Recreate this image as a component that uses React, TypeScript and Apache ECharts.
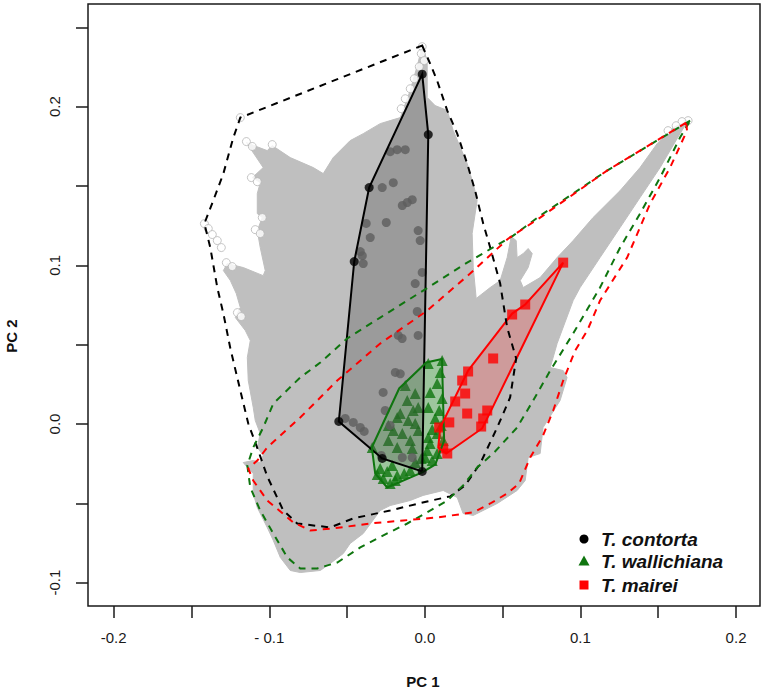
import React, { useEffect, useRef } from "react";
import * as echarts from "echarts";

// ---- axis ticks / labels ----
const xTickValues = [-0.2, -0.15, -0.1, -0.05, 0, 0.05, 0.1, 0.15, 0.2];
const xLabelValues = [-0.2, -0.1, 0, 0.1, 0.2];
const xLabelTexts = ["-0.2", "- 0.1", "0.0", "0.1", "0.2"];
const yTickValues = [-0.1, -0.05, 0, 0.05, 0.1, 0.15, 0.2, 0.25];
const yLabelValues = [-0.1, 0, 0.1, 0.2];
const yLabelTexts = ["-0.1", "0.0", "0.1", "0.2"];

// ---- background environmental space (outline of the grey cloud) ----
const envOutline: number[][] = [
  [-0.0017, 0.2385], [0.0015, 0.229], [0.0015, 0.2058], [0.0066, 0.2007], [0.0144, 0.1976],
  [0.0182, 0.185], [0.0272, 0.1642], [0.0317, 0.1491], [0.0336, 0.1409], [0.0304, 0.1201],
  [0.0311, 0.0986], [0.033, 0.0791], [0.042, 0.086], [0.0484, 0.0904], [0.0529, 0.1049],
  [0.0555, 0.1181], [0.0587, 0.1156], [0.0593, 0.1049], [0.0632, 0.1074], [0.0664, 0.1106],
  [0.069, 0.1074], [0.0664, 0.0986], [0.0613, 0.0904], [0.0632, 0.086], [0.0741, 0.0923],
  [0.085, 0.1049], [0.0953, 0.1156], [0.1081, 0.1301], [0.1255, 0.1471], [0.1383, 0.1616],
  [0.1493, 0.1767], [0.1596, 0.1868], [0.1692, 0.1912], [0.164, 0.183], [0.1512, 0.1616],
  [0.1383, 0.1427], [0.1255, 0.1238], [0.1126, 0.1049], [0.0998, 0.086], [0.0953, 0.0778],
  [0.085, 0.0507], [0.0806, 0.0356], [0.0889, 0.0337], [0.0914, 0.0293], [0.0869, 0.0148],
  [0.076, -0.0022], [0.0741, -0.0186], [0.0664, -0.0211], [0.0645, -0.0356], [0.0593, -0.0419],
  [0.0465, -0.0501], [0.0311, -0.0576], [0.0246, -0.0564], [0.0208, -0.0463], [0.0118, -0.0419],
  [-0.0011, -0.045], [-0.0094, -0.0482], [-0.0223, -0.0514], [-0.0287, -0.0545], [-0.0396, -0.069],
  [-0.048, -0.0753], [-0.0524, -0.0816], [-0.0608, -0.0879], [-0.0672, -0.0923], [-0.0801, -0.0936],
  [-0.0865, -0.0923], [-0.0929, -0.0841], [-0.0974, -0.0734], [-0.1013, -0.0652], [-0.1077, -0.0526],
  [-0.1103, -0.0438], [-0.1103, -0.0312], [-0.1141, -0.0274], [-0.1167, -0.0243], [-0.1103, -0.023],
  [-0.1058, -0.0243], [-0.1039, -0.0198], [-0.1077, -0.0148], [-0.1058, -0.006], [-0.109, 0.0022],
  [-0.1103, 0.0104], [-0.1135, 0.0274], [-0.1141, 0.0419], [-0.1122, 0.0526], [-0.1154, 0.0589],
  [-0.1218, 0.0671], [-0.1186, 0.0734], [-0.1212, 0.0822], [-0.125, 0.0904], [-0.1295, 0.0967],
  [-0.127, 0.1011], [-0.1167, 0.0986], [-0.1039, 0.0935], [-0.1026, 0.0967], [-0.1058, 0.1112],
  [-0.1077, 0.1219], [-0.1045, 0.1301], [-0.1077, 0.1326], [-0.1077, 0.1452], [-0.1058, 0.1521],
  [-0.1109, 0.1553], [-0.1039, 0.1616], [-0.1147, 0.1774], [-0.1083, 0.1749], [-0.1013, 0.1723],
  [-0.0981, 0.1755], [-0.0865, 0.1679], [-0.0717, 0.1616], [-0.0653, 0.1578], [-0.0589, 0.1679],
  [-0.048, 0.1786], [-0.0396, 0.183], [-0.0287, 0.1893], [-0.0223, 0.1912], [-0.0158, 0.1931],
  [-0.0094, 0.2102], [-0.0043, 0.2278],
];

// open circles at the fringe of the background cloud
const envFringe: number[][] = [
  [-0.1186, 0.1931], [-0.1147, 0.178], [-0.1109, 0.1749], [-0.0981, 0.1761], [-0.1115, 0.1553],
  [-0.1077, 0.1527], [-0.109, 0.1225], [-0.1058, 0.12], [-0.1417, 0.1263], [-0.1392, 0.1232],
  [-0.1366, 0.1194], [-0.1334, 0.1156], [-0.1308, 0.1112], [-0.1276, 0.1017], [-0.1238, 0.0992],
  [-0.1205, 0.0702], [-0.118, 0.0677], [-0.1045, 0.1301], [-0.0017, 0.2378], [-0.0023, 0.2334],
  [-0.0004, 0.229], [-0.0036, 0.2252], [-0.0068, 0.2176], [-0.0094, 0.2113], [-0.0126, 0.205],
  [-0.0152, 0.1987], [0.1692, 0.1912], [0.1653, 0.1906], [0.1615, 0.188], [0.1563, 0.1849],
];

// ---- T. contorta ----
const contortaPoints: number[][] = [
  [-0.0223, 0.1716], [-0.0178, 0.1729], [-0.0126, 0.1729], [-0.0274, 0.149], [-0.0203, 0.1521],
  [-0.0145, 0.1377], [-0.0113, 0.1396], [-0.0081, 0.1414], [-0.0248, 0.127], [-0.0377, 0.1264],
  [-0.0351, 0.1175], [-0.0043, 0.1219], [-0.003, 0.1156], [-0.0402, 0.1061], [-0.0396, 0.1011],
  [-0.0415, 0.1087], [-0.0017, 0.0955], [-0.0062, 0.0885], [-0.0049, 0.0709], [-0.0171, 0.0558],
  [-0.0146, 0.0539], [-0.0043, 0.0558], [-0.019, 0.0325], [-0.0158, 0.0316], [-0.0268, 0.0199],
  [-0.0255, 0.0085], [-0.0512, 0.0035], [-0.046, 0.001], [-0.0415, -0.0022], [-0.039, -0.0047],
  [-0.0223, -0.0009], [-0.0145, -0.0211], [-0.0081, -0.0211], [-0.028, -0.0198],
];
const contortaHull: number[][] = [
  [-0.0017, 0.2205], [0.0022, 0.1824], [-0.0017, -0.0299], [-0.0274, -0.0217],
  [-0.0553, 0.0016], [-0.0454, 0.1024], [-0.0358, 0.149],
];
const contortaNiche: number[][] = [
  [-0.0017, 0.2385], [0.0034, 0.2271], [0.0079, 0.2164], [0.0144, 0.1975], [0.0208, 0.183],
  [0.0272, 0.1641], [0.0323, 0.1471], [0.0375, 0.1263], [0.042, 0.1112], [0.0484, 0.0885],
  [0.0529, 0.0608], [0.0587, 0.0413], [0.0548, 0.0167], [0.0465, -0.0022], [0.0356, -0.0249],
  [0.0259, -0.0387], [0.0163, -0.0456], [0.0015, -0.0488], [-0.0223, -0.0545], [-0.046, -0.0595],
  [-0.0608, -0.0652], [-0.082, -0.0627], [-0.091, -0.0545], [-0.1013, -0.033], [-0.1071, -0.0167],
  [-0.1135, 0.0003], [-0.1186, 0.0211], [-0.125, 0.0476], [-0.1295, 0.0696], [-0.1334, 0.086],
  [-0.1379, 0.1112], [-0.1417, 0.1263], [-0.136, 0.1408], [-0.1295, 0.1578], [-0.1231, 0.1805],
  [-0.1186, 0.1931],
];

// ---- T. wallichiana ----
const wallichianaPoints: number[][] = [
  [0.0022, 0.0381], [0.0111, 0.04], [0.0079, 0.0255], [0.0034, 0.0199], [0.0022, 0.0104],
  [0.0066, 0.0035], [0.0047, -0.0034], [0.0079, -0.006], [0.0022, -0.0085], [0.0034, -0.0123],
  [0.0079, -0.0186], [0.0002, -0.0211], [0.0047, -0.023], [-0.0306, -0.0318], [-0.0268, -0.0343],
  [-0.0223, -0.0375], [-0.0242, -0.0299], [-0.0178, -0.0324], [-0.021, -0.0261], [-0.0023, -0.0218],
  [0.0015, -0.0167], [-0.0338, -0.0148], [-0.0133, -0.0312], [-0.0062, 0.0192], [-0.0113, 0.0148],
  [-0.0043, 0.0104], [-0.0178, 0.0041], [-0.0107, 0.0022], [-0.0062, 0.0003], [-0.0203, -0.0041],
  [-0.0145, -0.006], [-0.0094, -0.0104], [-0.0235, -0.0104], [-0.0178, -0.0148], [-0.0081, -0.0154],
  [-0.0043, -0.0041], [-0.0235, -0.0009], [-0.0158, 0.0066], [-0.0075, 0.0085], [-0.0126, 0.0243],
  [0.0099, 0.0325], [0.0111, 0.0161], [0.0092, 0.0085], [0.0105, -0.0009], [0.0118, -0.0104],
  [-0.0287, -0.028], [-0.019, -0.0356], [-0.0094, -0.0293], [-0.0062, -0.0243],
];
const wallichianaHull: number[][] = [
  [0.011, 0.041], [0.0124, -0.0104], [0.0067, -0.0255], [-0.0017, -0.0305], [-0.0242, -0.04],
  [-0.0319, -0.0312], [-0.0341, -0.0148], [-0.0165, 0.0224], [0.0009, 0.0388],
];
const wallichianaNiche: number[][] = [
  [0.1705, 0.1912], [0.1171, 0.1597], [0.0741, 0.1313], [0.0568, 0.1187], [0.0272, 0.1017],
  [-0.003, 0.0829], [-0.0287, 0.0671], [-0.0499, 0.0539], [-0.0672, 0.0387], [-0.0801, 0.0293],
  [-0.0974, 0.0129], [-0.1039, -0.0022], [-0.1103, -0.0148], [-0.1141, -0.0261], [-0.1122, -0.04],
  [-0.1058, -0.0545], [-0.0974, -0.069], [-0.0884, -0.0841], [-0.0801, -0.091], [-0.0691, -0.091],
  [-0.0563, -0.0873], [-0.0415, -0.0778], [-0.0242, -0.069], [-0.0113, -0.0627], [0.0015, -0.0557],
  [0.0144, -0.0482], [0.0246, -0.0387], [0.0336, -0.0274], [0.0439, -0.0186], [0.0593, -0.0022],
  [0.0696, 0.0148], [0.0806, 0.0337], [0.0953, 0.057], [0.1126, 0.086], [0.1255, 0.1112],
  [0.1383, 0.1326], [0.1512, 0.1553], [0.164, 0.1805],
];

// ---- T. mairei ----
const maireiPoints: number[][] = [
  [0.0889, 0.1017], [0.0645, 0.0753], [0.0561, 0.069], [0.0439, 0.0413], [0.0278, 0.0331],
  [0.024, 0.0274], [0.0259, 0.0192], [0.0195, 0.0142], [0.0272, 0.0066], [0.0401, 0.0085],
  [0.0375, 0.0035], [0.0362, -0.0016], [0.0157, 0.001], [0.0092, -0.0022], [0.0118, -0.0154],
  [0.0144, -0.0186],
];
const maireiHull: number[][] = [
  [0.0889, 0.1017], [0.0645, 0.0753], [0.0561, 0.0696], [0.0278, 0.0337], [0.0099, -0.0022],
  [0.0086, -0.0148], [0.0137, -0.0186], [0.0368, -0.0028], [0.042, 0.0073],
];
const maireiNiche: number[][] = [
  [0.1679, 0.1899], [0.1171, 0.1597], [0.0741, 0.1301], [0.0535, 0.1168], [0.0291, 0.0948],
  [0.0015, 0.0715], [-0.0287, 0.0507], [-0.0563, 0.0274], [-0.0801, 0.0041], [-0.1013, -0.0148],
  [-0.1077, -0.023], [-0.1135, -0.028], [-0.1103, -0.0356], [-0.1013, -0.0482], [-0.0846, -0.062],
  [-0.0737, -0.0671], [-0.0589, -0.0658], [-0.0351, -0.0627], [-0.0139, -0.0608], [0.0079, -0.0589],
  [0.0311, -0.0557], [0.042, -0.0501], [0.0529, -0.0438], [0.0606, -0.0375], [0.0677, -0.0211],
  [0.076, -0.0072], [0.0825, 0.0085], [0.0889, 0.0274], [0.0966, 0.0463], [0.1044, 0.0589],
  [0.1126, 0.0778], [0.13, 0.1049], [0.1448, 0.1389], [0.1576, 0.1616], [0.1685, 0.1849],
];

const legendNames = ["T. contorta", "T. wallichiana", "T. mairei"];

const FONT = '"Liberation Sans", Arial, Helvetica, sans-serif';
const GREEN = "#0f750f";
const RED = "#ff0000";

function pick(values: number[], texts: string[], v: number) {
  for (let i = 0; i < values.length; i++) if (Math.abs(values[i] - v) < 1e-9) return texts[i];
  return "";
}

function polygon(name: string, pts: number[][], style: any, z: number) {
  return {
    type: "custom",
    name,
    silent: true,
    z,
    coordinateSystem: "cartesian2d",
    data: pts,
    encode: { x: 0, y: 1 },
    renderItem: (params: any, api: any) => {
      if (params.dataIndex !== 0) return null;
      return {
        type: "polygon",
        shape: { points: pts.map((p) => api.coord(p)) },
        style,
      };
    },
  };
}

function scatter(name: string, pts: number[][], symbol: string, size: number, itemStyle: any, z: number) {
  return { type: "scatter", name, silent: true, z, data: pts, symbol, symbolSize: size, itemStyle };
}

export default function App() {
  const ref = useRef<HTMLDivElement>(null);
  useEffect(() => {
    if (!ref.current) return;
    const chart = echarts.init(ref.current, undefined, { renderer: "svg" });
    const axisLabelStyle = { fontFamily: FONT, fontSize: 15, color: "#1a1a1a" };
    const option: any = {
      animation: false,
      backgroundColor: "#ffffff",
      grid: {
        left: 88, top: 4, width: 672, height: 602,
        show: true, borderColor: "#1a1a1a", borderWidth: 1.5, backgroundColor: "transparent",
      },
      xAxis: {
        type: "value", min: -0.2165, max: 0.2154, position: "bottom",
        splitLine: { show: false }, axisLine: { show: false, onZero: false },
        axisTick: { show: true, customValues: xTickValues, length: 12, lineStyle: { color: "#1a1a1a", width: 1.5 } },
        axisLabel: {
          customValues: xLabelValues, margin: 24, ...axisLabelStyle,
          formatter: (v: number) => pick(xLabelValues, xLabelTexts, v),
        },
      },
      yAxis: {
        type: "value", min: -0.1147, max: 0.2647, position: "left",
        splitLine: { show: false }, axisLine: { show: false, onZero: false },
        axisTick: { show: true, customValues: yTickValues, length: 12, lineStyle: { color: "#1a1a1a", width: 1.5 } },
        axisLabel: {
          customValues: yLabelValues, margin: 26, rotate: 90, ...axisLabelStyle,
          formatter: (v: number) => pick(yLabelValues, yLabelTexts, v),
        },
      },
      series: [
        polygon("env", envOutline, { fill: "#bfbfbf", stroke: "#bfbfbf", lineWidth: 1 }, 1),
        scatter("envFringe", envFringe, "circle", 8, { color: "#ffffff", borderColor: "#b5b5b5", borderWidth: 1 }, 2),
        polygon("wallichianaFill", wallichianaHull, { fill: "rgba(70,215,70,0.28)" }, 3),
        scatter(legendNames[1], wallichianaPoints, "triangle", 11, { color: GREEN }, 4),
        polygon("contortaFill", contortaHull, { fill: "rgba(80,80,80,0.32)" }, 5),
        scatter(legendNames[0], contortaPoints, "circle", 9, { color: "#5e5e5e" }, 6),
        polygon("maireiFill", maireiHull, { fill: "rgba(255,40,40,0.24)" }, 7),
        scatter(legendNames[2], maireiPoints, "rect", 10, { color: RED }, 8),
        polygon("contortaLine", contortaHull, { fill: "none", stroke: "#000", lineWidth: 2 }, 9),
        polygon("wallichianaLine", wallichianaHull, { fill: "none", stroke: GREEN, lineWidth: 2 }, 9),
        polygon("maireiLine", maireiHull, { fill: "none", stroke: RED, lineWidth: 2 }, 9),
        scatter("contortaHullPts", contortaHull, "circle", 9, { color: "#000" }, 10),
        polygon("contortaNiche", contortaNiche, { fill: "none", stroke: "#000", lineWidth: 2, lineDash: [7, 6] }, 11),
        polygon("wallichianaNiche", wallichianaNiche, { fill: "none", stroke: GREEN, lineWidth: 2, lineDash: [7, 6] }, 11),
        polygon("maireiNiche", maireiNiche, { fill: "none", stroke: RED, lineWidth: 2, lineDash: [7, 6] }, 12),
      ],
      graphic: [
        { type: "circle", shape: { cx: 584, cy: 539, r: 4.5 }, style: { fill: "#000" }, z: 20 },
        { type: "polygon", shape: { points: [[584, 555.5], [578.5, 565.5], [589.5, 565.5]] }, style: { fill: GREEN }, z: 20 },
        { type: "rect", shape: { x: 579.5, y: 580.5, width: 9, height: 9 }, style: { fill: RED }, z: 20 },
        ...legendNames.map((t, i) => ({
          type: "text", x: 601, y: [539, 561, 585][i], z: 20,
          style: {
            text: t, font: `italic bold 19px ${FONT}`, fill: "#111",
            align: "left", verticalAlign: "middle", textAlign: "left", textVerticalAlign: "middle",
          },
        })),
        {
          type: "text", x: 423, y: 681, z: 20,
          style: {
            text: "PC 1", font: `bold 15px ${FONT}`, fill: "#111",
            align: "center", verticalAlign: "middle", textAlign: "center", textVerticalAlign: "middle",
          },
        },
        {
          type: "text", x: 11, y: 336, rotation: Math.PI / 2, z: 20,
          style: {
            text: "PC 2", font: `bold 15px ${FONT}`, fill: "#111",
            align: "center", verticalAlign: "middle", textAlign: "center", textVerticalAlign: "middle",
          },
        },
      ],
    };
    chart.setOption(option);
    return () => chart.dispose();
  }, []);
  return (
    <div
      ref={ref}
      style={{ position: "absolute", left: 0, top: 0, width: 764, height: 692, background: "#fff" }}
    />
  );
}
